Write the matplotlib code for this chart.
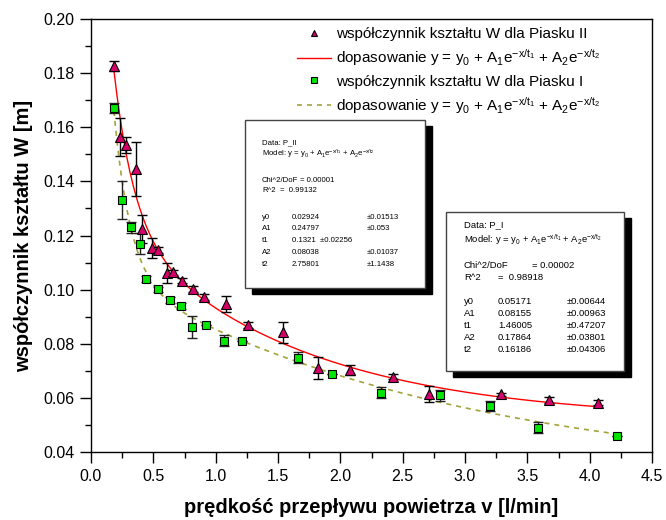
import numpy as np
import matplotlib
matplotlib.use("Agg")
from matplotlib import pyplot as plt
from matplotlib.patches import Rectangle
from matplotlib.ticker import MultipleLocator, FormatStrFormatter

plt.rcParams['font.family'] = ['Liberation Sans', 'DejaVu Sans']
plt.rcParams['mathtext.fontset'] = 'custom'
plt.rcParams['mathtext.rm'] = 'Liberation Sans'
plt.rcParams['mathtext.it'] = 'Liberation Sans'
plt.rcParams['mathtext.default'] = 'regular'

# Piasek II (triangles)
x2 = [0.184, 0.233, 0.283, 0.361, 0.409, 0.487, 0.537, 0.607, 0.66, 0.727, 0.82,
      0.91, 1.08, 1.262, 1.542, 1.82, 2.077, 2.424, 2.711, 3.288, 3.673, 4.063]
y2 = [0.1826, 0.1563, 0.1534, 0.1445, 0.1224, 0.1155, 0.1146, 0.1062, 0.1064, 0.1033, 0.1003,
      0.0972, 0.0946, 0.0870, 0.0842, 0.0711, 0.0703, 0.0678, 0.0613, 0.0613, 0.0592, 0.0582]
e2 = [0.0018, 0.007, 0.003, 0.010, 0.005, 0.0037, 0.001, 0.0038, 0.001, 0.001, 0.001,
      0.001, 0.003, 0.001, 0.004, 0.004, 0.002, 0.001, 0.003, 0.0005, 0.001, 0.001]

# Piasek I (squares)
x1 = [0.184, 0.249, 0.318, 0.396, 0.444, 0.54, 0.636, 0.72, 0.807, 0.919, 1.069, 1.208,
      1.657, 1.930, 2.323, 2.799, 3.2, 3.582, 4.216]
y1 = [0.1672, 0.1331, 0.1230, 0.1170, 0.1040, 0.1001, 0.0962, 0.094, 0.0861, 0.0870, 0.0811,
      0.0811, 0.0748, 0.0688, 0.0619, 0.0610, 0.0570, 0.0490, 0.0459]
e1 = [0.0018, 0.0069, 0.002, 0.004, 0.001, 0.001, 0.001, 0.001, 0.004, 0, 0.002, 0,
      0.002, 0, 0.002, 0.002, 0.002, 0.002, 0]

# fit parameters printed in the boxes
fit_I = dict(y0=0.05171, A1=0.08155, t1=1.46005, A2=0.17864, t2=0.16186)
fit_II = dict(y0=0.02924, A1=0.24797, t1=0.1321, A2=0.08038, t2=2.75801)


def model(x, p):
    return p['y0'] + p['A1'] * np.exp(-x / p['t1']) + p['A2'] * np.exp(-x / p['t2'])


W, H = 666, 520
fig = plt.figure(figsize=(W / 100, H / 100), dpi=100)
ax = fig.add_axes([91 / W, 1 - 452 / H, (652 - 91) / W, (452 - 19) / H])

xr = np.linspace(min(x2), max(x2), 300)
xg = np.linspace(min(x1), max(x1), 300)

ax.errorbar(x2, y2, yerr=e2, fmt='none', ecolor='black', elinewidth=1, capsize=3.5, capthick=1, zorder=3)
ax.plot(x2, y2, '^', color='#D4006A', mec='black', mew=0.8, ms=7, zorder=4,
        label='współczynnik kształtu W dla Piasku II')
ax.plot(xr, model(xr, fit_I), color='red', lw=1,
        label=r'dopasowanie y = y$_0$ + A$_1$e$^{-x/t_1}$ + A$_2$e$^{-x/t_2}$')
ax.errorbar(x1, y1, yerr=e1, fmt='none', ecolor='#222222', elinewidth=1, capsize=3.5, capthick=1, zorder=3)
ax.plot(x1, y1, 's', color='#00E600', mec='black', mew=0.8, ms=6, zorder=4,
        label='współczynnik kształtu W dla Piasku I')
ax.plot(xg, model(xg, fit_II), color='#A3A33A', lw=1.2, ls=(0, (3, 3)),
        label=r'dopasowanie y = y$_0$ + A$_1$e$^{-x/t_1}$ + A$_2$e$^{-x/t_2}$')

ax.set_xlim(0, 4.5)
ax.set_ylim(0.04, 0.20)
ax.xaxis.set_major_locator(MultipleLocator(0.5))
ax.xaxis.set_minor_locator(MultipleLocator(0.25))
ax.yaxis.set_major_locator(MultipleLocator(0.02))
ax.yaxis.set_minor_locator(MultipleLocator(0.01))
ax.xaxis.set_major_formatter(FormatStrFormatter('%.1f'))
ax.yaxis.set_major_formatter(FormatStrFormatter('%.2f'))
ax.tick_params(which='major', direction='out', length=8, width=1, labelsize=11.5, pad=4)
ax.tick_params(which='minor', direction='out', length=4, width=1)
for s in ax.spines.values():
    s.set_linewidth(1)

ax.set_xlabel('prędkość przepływu powietrza v [l/min]', fontsize=14.5, fontweight='bold', labelpad=10)
ax.set_ylabel('współczynnik kształtu W [m]', fontsize=14.5, fontweight='bold', labelpad=7)

ax.legend(loc='upper left', bbox_to_anchor=(297 / W, 1 - 27 / H), bbox_transform=fig.transFigure,
          frameon=False, fontsize=11, handlelength=2.2, handletextpad=0.35, labelspacing=0.42,
          borderpad=0, borderaxespad=0, numpoints=1, markerscale=0.7)


def fx(px):
    return px / W


def fy(py):
    return 1 - py / H


def box(left, top, right, bottom, size, lines):
    fig.patches.append(Rectangle((fx(left + 7), fy(bottom + 6)), fx(right - left), fy(top) - fy(bottom),
                                 transform=fig.transFigure, facecolor='black', edgecolor='black', zorder=5))
    fig.patches.append(Rectangle((fx(left), fy(bottom)), fx(right - left), fy(top) - fy(bottom),
                                 transform=fig.transFigure, facecolor='white', edgecolor='#444444',
                                 lw=1, zorder=6))
    for px, py, s in lines:
        fig.text(fx(px), fy(py), s, fontsize=size, va='center', ha='left', zorder=7)


model_txt = r'Model: y = y$_0$ + A$_1$e$^{-x/t_1}$ + A$_2$e$^{-x/t_2}$'

box(245, 120, 425, 288, 5.6, [
    (262, 143, 'Data: P_II'),
    (262, 154, model_txt),
    (262, 180, 'Chi^2/DoF'), (300, 180, '= 0.00001'),
    (262, 191, 'R^2'), (280, 191, '=  0.99132'),
    (262, 217, 'y0'), (292, 217, '0.02924'), (367, 217, '±0.01513'),
    (262, 229, 'A1'), (292, 229, '0.24797'), (367, 229, '±0.053'),
    (262, 241, 't1'), (292, 241, '0.1321  ±0.02256'),
    (262, 252, 'A2'), (292, 252, '0.08038'), (367, 252, '±0.01037'),
    (262, 264, 't2'), (292, 264, '2.75801'), (367, 264, '±1.1438'),
])

box(446, 212, 624, 371, 6.8, [
    (464, 225, 'Data: P_I'),
    (464, 240, model_txt),
    (464, 265, 'Chi^2/DoF'), (532, 265, '= 0.00002'),
    (464, 277, 'R^2'), (498, 277, '=  0.98918'),
    (464, 302, 'y0'), (498, 302, '0.05171'), (567, 302, '±0.00644'),
    (464, 313, 'A1'), (498, 313, '0.08155'), (567, 313, '±0.00963'),
    (464, 325, 't1'), (498, 325, '1.46005'), (567, 325, '±0.47207'),
    (464, 337, 'A2'), (498, 337, '0.17864'), (567, 337, '±0.03801'),
    (464, 349, 't2'), (498, 349, '0.16186'), (567, 349, '±0.04306'),
])

fig.savefig('out.png', dpi=100)
